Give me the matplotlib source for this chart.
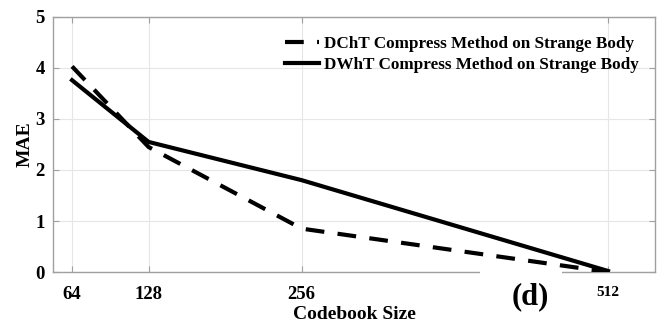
import numpy as np
import matplotlib.pyplot as plt
from matplotlib.patches import Rectangle

plt.rcParams['font.family'] = ['Liberation Serif', 'DejaVu Serif']
plt.rcParams['font.weight'] = 'bold'

codebook_size = [64, 128, 256, 512]
mae_dcht = [4.03, 2.45, 0.85, 0.0]
mae_dwht = [3.76, 2.55, 1.80, 0.02]
labels = ["DChT Compress Method on Strange Body",
          "DWhT Compress Method on Strange Body"]

fig = plt.figure(figsize=(6.67, 3.26), dpi=100)
ax = fig.add_axes([0.0795, 0.1656, 0.9025, 0.7824])

ax.plot(codebook_size, mae_dcht, color='black', lw=3.0, ls=(0, (4.5, 3.2)),
        label=labels[0], zorder=3)
ax.plot(codebook_size, mae_dwht, color='black', lw=3.0, ls='-',
        label=labels[1], zorder=3)

ax.set_xlim(48.1, 551.3)
ax.set_ylim(0, 5)
ax.set_xticks(codebook_size)
ax.set_yticks(range(6))
ax.grid(True, color='#e6e6e6', lw=0.8)

for s in ax.spines.values():
    s.set_color('#a0a0a0')
    s.set_linewidth(1.0)
ax.tick_params(direction='in', top=True, right=True, length=4,
               color='#a0a0a0', labelsize=13.5)
ax.tick_params(axis='x', pad=10)
ax.tick_params(axis='y', pad=6)
for lab in ax.get_xticklabels() + ax.get_yticklabels():
    lab.set_fontweight('bold')
ax.get_xticklabels()[-1].set_fontsize(11)

ax.set_xlabel("Codebook Size", fontsize=14, fontweight='bold', labelpad=2)
ax.set_ylabel("MAE", fontsize=14, fontweight='bold', labelpad=1)

leg = ax.legend(loc='upper right', bbox_to_anchor=(0.99, 0.965), frameon=False,
                fontsize=12.3, handlelength=2.0, handletextpad=0.3,
                labelspacing=0.3, borderaxespad=0.2)
for t in leg.get_texts():
    t.set_fontweight('bold')

# white panel under the "(d)" tag, it hides part of the bottom spine
fig.patches.append(Rectangle((0.7196, 0.018), 0.123, 0.157, transform=fig.transFigure,
                             facecolor='white', edgecolor='none', zorder=10))
fig.text(0.795, 0.09, "(d)", fontsize=22, fontweight='bold', ha='center',
         va='center', zorder=11)

fig.savefig("out.png", dpi=100)
